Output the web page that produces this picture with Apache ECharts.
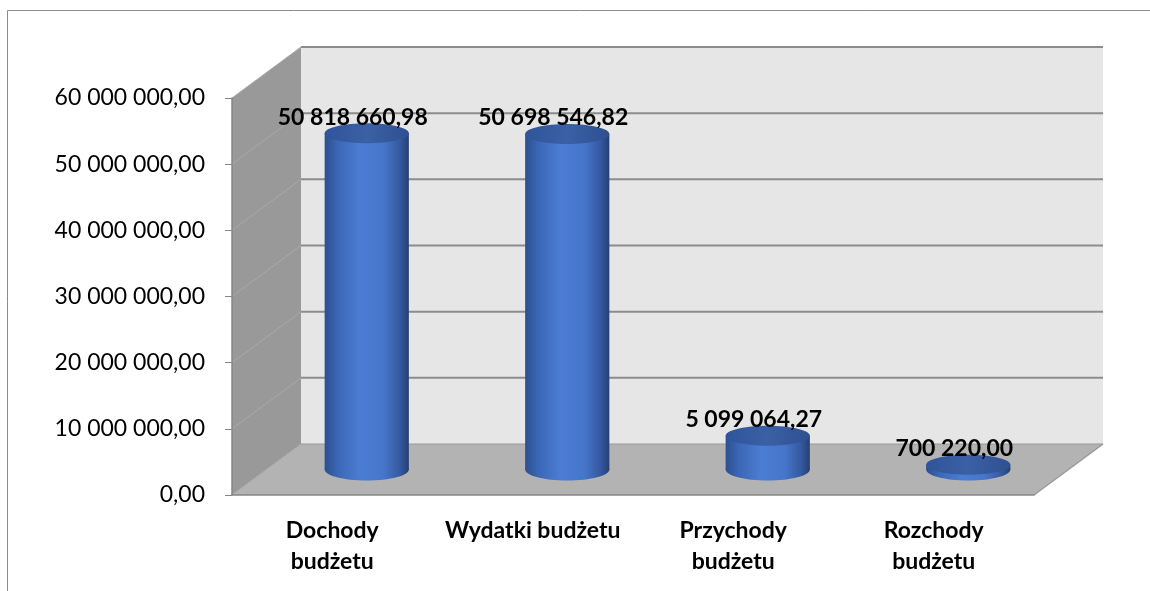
<!DOCTYPE html>
<html>
<head>
<meta charset="utf-8">
<script src="https://cdn.jsdelivr.net/npm/echarts@6/dist/echarts.min.js"></script>
<style>
  html, body { margin: 0; padding: 0; background: #fff; }
  #chart { width: 1150px; height: 591px; }
</style>
</head>
<body>
<div id="chart"></div>
<script>
// dane
const categories = ["Dochody\nbudżetu", "Wydatki budżetu", "Przychody\nbudżetu", "Rozchody\nbudżetu"];
const values = [50818660.98, 50698546.82, 5099064.27, 700220.0];
const gridValues = [10000000, 20000000, 30000000, 40000000, 50000000, 60000000];

// glebokosc 3D (przesuniecie tylnej sciany)
const DX = 69;
const DY = -51;
const FONT = "Lato, 'Open Sans', sans-serif";

function fmt(v) {
  const s = v.toFixed(2).split(".");
  return s[0].replace(/\B(?=(\d{3})+(?!\d))/g, " ") + "," + s[1];
}

let myChart = echarts.init(document.getElementById("chart"));

// sciany: lewa, tylna, podloga + linie siatki
function renderWalls(params, api) {
  const cs = params.coordSys;
  const x0 = cs.x, x1 = cs.x + cs.width;
  const yb = cs.y + cs.height, yt = cs.y;
  const children = [];
  children.push({
    type: "polygon",
    shape: { points: [[x0 + DX, yt + DY], [x1 + DX, yt + DY], [x1 + DX, yb + DY], [x0 + DX, yb + DY]] },
    style: { fill: "#e6e6e6" }
  });
  children.push({
    type: "polygon",
    shape: { points: [[x0, yt], [x0 + DX, yt + DY], [x0 + DX, yb + DY], [x0, yb]] },
    style: { fill: "#999999" }
  });
  children.push({
    type: "polygon",
    shape: { points: [[x0, yb], [x1, yb], [x1 + DX, yb + DY], [x0 + DX, yb + DY]] },
    style: { fill: "#b3b3b3" }
  });
  // linie siatki
  gridValues.forEach(function (v) {
    const y = api.coord([0, v])[1];
    children.push({
      type: "line",
      shape: { x1: x0 + DX, y1: y + DY, x2: x1 + DX, y2: y + DY },
      style: { stroke: "#8c8c8c", lineWidth: 2 }
    });
    children.push({
      type: "line",
      shape: { x1: x0, y1: y, x2: x0 + DX, y2: y + DY },
      style: { stroke: "#a9a9a9", lineWidth: 1 }
    });
  });
  children.push({
    type: "line",
    shape: { x1: x0, y1: yb, x2: x0 + DX, y2: yb + DY },
    style: { stroke: "#a9a9a9", lineWidth: 1 }
  });
  children.push({
    type: "line",
    shape: { x1: x0 + DX, y1: yb + DY, x2: x1 + DX, y2: yb + DY },
    style: { stroke: "#9a9a9a", lineWidth: 1 }
  });
  children.push({
    type: "line",
    shape: { x1: x1, y1: yb, x2: x1 + DX, y2: yb + DY },
    style: { stroke: "#9a9a9a", lineWidth: 1.5 }
  });
  return { type: "group", children: children };
}

// walce
function renderCylinder(params, api) {
  const base = api.coord([api.value(0), 0]);
  const top = api.coord([api.value(0), api.value(1)]);
  const band = api.size([1, 0])[0];
  const cx = base[0] + DX / 2;
  const by = base[1] + DY / 2;
  const ty = top[1] + DY / 2;
  const rx = band * 0.21;
  const ry = 11;
  const bodyFill = {
    type: "linear", x: 0, y: 0, x2: 1, y2: 0,
    colorStops: [
      { offset: 0, color: "#2c4f8e" },
      { offset: 0.15, color: "#3b66b4" },
      { offset: 0.42, color: "#4b7dd4" },
      { offset: 0.7, color: "#4676cb" },
      { offset: 0.9, color: "#34589d" },
      { offset: 1, color: "#253f74" }
    ]
  };
  const topFill = {
    type: "linear", x: 0, y: 0, x2: 1, y2: 0,
    colorStops: [
      { offset: 0, color: "#30549a" },
      { offset: 0.5, color: "#3a60a6" },
      { offset: 1, color: "#2f5090" }
    ]
  };
  return {
    type: "group",
    children: [
      { type: "ellipse", shape: { cx: cx, cy: by, rx: rx, ry: ry }, style: { fill: bodyFill } },
      { type: "rect", shape: { x: cx - rx, y: ty, width: rx * 2, height: Math.max(by - ty, 0) }, style: { fill: bodyFill } },
      { type: "ellipse", shape: { cx: cx, cy: ty, rx: rx, ry: ry - 1 }, style: { fill: topFill } },
      {
        type: "text",
        x: cx - 14,
        y: ty - 16,
        style: {
          text: fmt(api.value(1)),
          fill: "#000",
          font: "bold 23px " + FONT,
          align: "center",
          verticalAlign: "middle"
        }
      }
    ]
  };
}

let option = {
  animation: false,
  backgroundColor: "#fff",
  graphic: [
    {
      type: "rect",
      shape: { x: 7.5, y: 10.5, width: 1300, height: 700 },
      style: { fill: "none", stroke: "#8c8c8c", lineWidth: 1 },
      z: 0
    }
  ],
  grid: {
    left: 232,
    top: 98,
    width: 802,
    height: 397
  },
  xAxis: {
    type: "category",
    data: categories,
    z: 10,
    axisLine: { lineStyle: { color: "#868686", width: 1.5 } },
    axisTick: { length: 7, lineStyle: { color: "#868686" } },
    axisLabel: {
      margin: 20,
      color: "#000",
      fontFamily: FONT,
      fontWeight: "bold",
      fontSize: 23,
      lineHeight: 31,
      interval: 0
    }
  },
  yAxis: {
    type: "value",
    min: 0,
    max: 60000000,
    interval: 10000000,
    z: 10,
    axisLine: { show: true, lineStyle: { color: "#868686", width: 1.5 } },
    axisTick: { show: true, length: 7, lineStyle: { color: "#868686" } },
    splitLine: { show: false },
    axisLabel: {
      margin: 27,
      color: "#000",
      fontFamily: FONT,
      fontSize: 23,
      formatter: function (v) { return fmt(v); }
    }
  },
  series: [
    {
      type: "custom",
      z: 1,
      silent: true,
      renderItem: renderWalls,
      data: [[0, 0]]
    },
    {
      type: "custom",
      z: 3,
      renderItem: renderCylinder,
      data: values.map(function (v, i) { return [i, v]; })
    }
  ]
};

myChart.setOption(option);

window.addEventListener("resize", function () {
  myChart.resize();
});
</script>
</body>
</html>
